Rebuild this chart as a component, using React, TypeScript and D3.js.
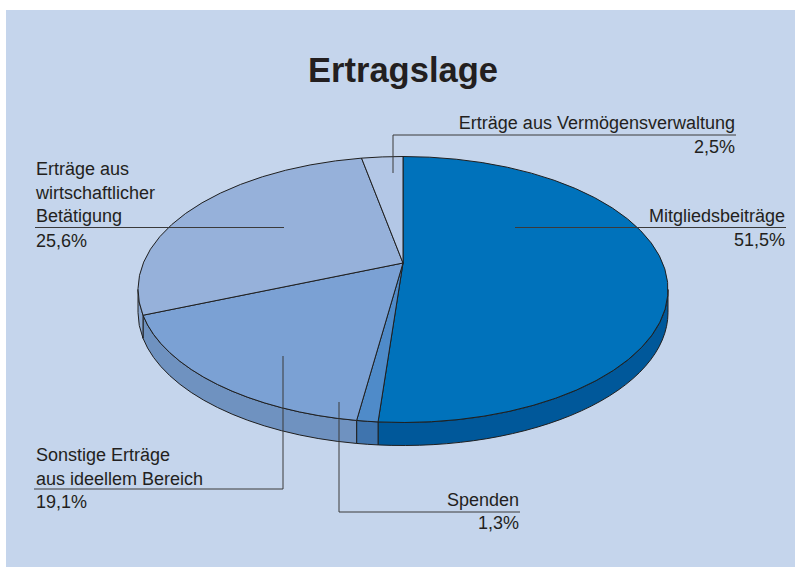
import { useEffect, useRef } from "react";
import * as d3 from "d3";

// Data
const categories = [
  "Mitgliedsbeiträge",
  "Spenden",
  "Sonstige Erträge aus ideellem Bereich",
  "Erträge aus wirtschaftlicher Betätigung",
  "Erträge aus Vermögensverwaltung",
];
const values = [51.5, 1.3, 19.1, 25.6, 2.5];
const labelLines = [
  ["Mitgliedsbeiträge"],
  ["Spenden"],
  ["Sonstige Erträge", "aus ideellem Bereich"],
  ["Erträge aus", "wirtschaftlicher", "Betätigung"],
  ["Erträge aus Vermögensverwaltung"],
];
const topColors = ["#0072bb", "#4f8bc9", "#7ba1d4", "#96b1da", "#b3c7e6"];
const sideColors = ["#00589a", "#3f74ae", "#6f92c0", "#89a6d0", "#a3b9dc"];

// Label layout (annotation placement)
const labelLayout = [
  { x: 785, anchor: "end", y0: 222, valueY: 246, leader: [[515, 227.5], [786, 227.5]] },
  { x: 519, anchor: "end", y0: 506, valueY: 529, leader: [[339, 402], [339, 512], [520, 512]] },
  { x: 36, anchor: "start", y0: 461, valueY: 508, leader: [[283, 356], [283, 489], [34, 489]] },
  { x: 36, anchor: "start", y0: 175, valueY: 247, leader: [[284, 227.5], [35, 227.5]] },
  { x: 735, anchor: "end", y0: 129, valueY: 153, leader: [[393, 173], [393, 135], [736, 135]] },
];

const W = 795;
const H = 567;
const FONT = "'Liberation Sans', Arial, Helvetica, sans-serif";

export default function App() {
  const svgRef = useRef<SVGSVGElement>(null);

  useEffect(() => {
    if (!svgRef.current) return;
    const svg = d3.select(svgRef.current);
    svg.selectAll("*").remove();

    // pie geometry
    const cx = 403;
    const cy = 289.5;
    const rx = 265;
    const ry = 133;
    const apex = { x: 403, y: 263 };
    const depth = 23;

    const pt = (t: number, dy = 0): [number, number] => [
      cx + rx * Math.sin(t),
      cy - ry * Math.cos(t) + dy,
    ];

    const locale = d3.formatLocale({ decimal: ",", thousands: ".", grouping: [3], currency: ["", " €"] });
    const fmt = locale.format(".1f");

    const arcs = d3
      .pie<number>()
      .sort(null)
      .startAngle(0)
      .endAngle(2 * Math.PI)(values);

    // background
    svg
      .append("rect")
      .attr("x", 6)
      .attr("y", 10)
      .attr("width", W - 6)
      .attr("height", H - 10)
      .attr("fill", "#c5d5ec");

    // title
    svg
      .append("text")
      .attr("x", 403)
      .attr("y", 82)
      .attr("text-anchor", "middle")
      .attr("font-family", FONT)
      .attr("font-weight", "bold")
      .attr("font-size", 34.5)
      .attr("fill", "#231f20")
      .text("Ertragslage");

    const pieGroup = svg.append("g");

    // side walls (front half only)
    arcs.forEach((a, i) => {
      const t0 = Math.max(a.startAngle, Math.PI / 2);
      const t1 = Math.min(a.endAngle, (3 * Math.PI) / 2);
      if (t1 <= t0) return;
      const [x0, y0] = pt(t0);
      const [x1, y1] = pt(t1);
      const [x2, y2] = pt(t1, depth);
      const [x3, y3] = pt(t0, depth);
      const large = t1 - t0 > Math.PI ? 1 : 0;
      pieGroup
        .append("path")
        .attr(
          "d",
          `M ${x0} ${y0} A ${rx} ${ry} 0 ${large} 1 ${x1} ${y1} L ${x2} ${y2} A ${rx} ${ry} 0 ${large} 0 ${x3} ${y3} Z`
        )
        .attr("fill", sideColors[i])
        .attr("stroke", "#1f1f1f")
        .attr("stroke-width", 1)
        .attr("stroke-linejoin", "round");
    });

    // top faces
    arcs.forEach((a, i) => {
      const [x0, y0] = pt(a.startAngle);
      const [x1, y1] = pt(a.endAngle);
      const large = a.endAngle - a.startAngle > Math.PI ? 1 : 0;
      pieGroup
        .append("path")
        .attr(
          "d",
          `M ${apex.x} ${apex.y} L ${x0} ${y0} A ${rx} ${ry} 0 ${large} 1 ${x1} ${y1} Z`
        )
        .attr("fill", topColors[i])
        .attr("stroke", "#1f1f1f")
        .attr("stroke-width", 1)
        .attr("stroke-linejoin", "round");
    });

    // leaders and labels
    const line = d3.line();
    labelLayout.forEach((l, i) => {
      svg
        .append("path")
        .attr("d", line(l.leader as [number, number][]))
        .attr("fill", "none")
        .attr("stroke", "#3a3a3a")
        .attr("stroke-width", 1);

      const txt = svg
        .append("g")
        .attr("font-family", FONT)
        .attr("font-size", 18)
        .attr("fill", "#231f20")
        .attr("text-anchor", l.anchor);

      labelLines[i].forEach((s, k) => {
        txt
          .append("text")
          .attr("x", l.x)
          .attr("y", l.y0 + k * 23.5)
          .text(s);
      });

      txt
        .append("text")
        .attr("x", l.x)
        .attr("y", l.valueY)
        .text(`${fmt(values[i])}%`);
    });
  }, []);

  return (
    <div style={{ position: "fixed", left: 0, top: 0, width: W, height: H, background: "#fff" }}>
      <svg ref={svgRef} width={W} height={H} viewBox={`0 0 ${W} ${H}`} aria-label={categories.join(", ")}>
        {/* drawn via d3 in useEffect */}
      </svg>
    </div>
  );
}
